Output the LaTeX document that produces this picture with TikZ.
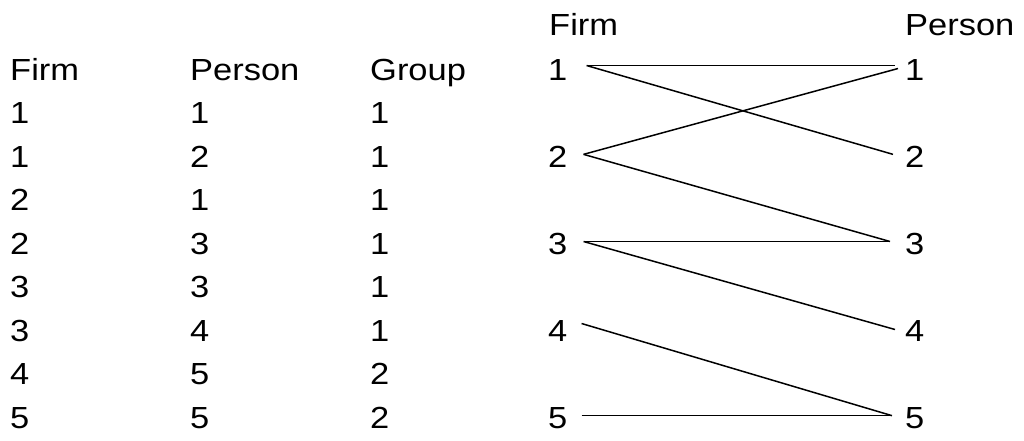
\documentclass[tikz,border=0pt]{standalone}
\usepackage{fontspec}
\setmainfont{Liberation Sans}[FakeStretch=1.13]
\usepackage{tikz}
\usetikzlibrary{positioning}

\tikzset{
    lbl/.style={anchor=base west,inner sep=0pt,font=\fontsize{30.5}{36}\selectfont},
    link/.style={line width=1.5pt,black}
}

\begin{document}
\begin{tikzpicture}[x=1pt,y=-1pt]
            \useasboundingbox (0,0) rectangle (1024,440);

            % table
            \node[lbl] (hfirm) at (10,80) {Firm};
            \node[lbl] (hperson) at (190,80) {Person};
            \node[lbl] (hgroup) at (370,80) {Group};

            \node[lbl] (ta1) at (10,123.5) {1};
            \node[lbl] (tb1) at (190,123.5) {1};
            \node[lbl] (tc1) at (370,123.5) {1};
            \node[lbl] (ta2) at (10,167) {1};
            \node[lbl] (tb2) at (190,167) {2};
            \node[lbl] (tc2) at (370,167) {1};
            \node[lbl] (ta3) at (10,210.5) {2};
            \node[lbl] (tb3) at (190,210.5) {1};
            \node[lbl] (tc3) at (370,210.5) {1};
            \node[lbl] (ta4) at (10,254) {2};
            \node[lbl] (tb4) at (190,254) {3};
            \node[lbl] (tc4) at (370,254) {1};
            \node[lbl] (ta5) at (10,297.5) {3};
            \node[lbl] (tb5) at (190,297.5) {3};
            \node[lbl] (tc5) at (370,297.5) {1};
            \node[lbl] (ta6) at (10,341) {3};
            \node[lbl] (tb6) at (190,341) {4};
            \node[lbl] (tc6) at (370,341) {1};
            \node[lbl] (ta7) at (10,384.5) {4};
            \node[lbl] (tb7) at (190,384.5) {5};
            \node[lbl] (tc7) at (370,384.5) {2};
            \node[lbl] (ta8) at (10,428) {5};
            \node[lbl] (tb8) at (190,428) {5};
            \node[lbl] (tc8) at (370,428) {2};

            % bipartite graph
            \node[lbl] (gfirm) at (549,35) {Firm};
            \node[lbl] (gperson) at (905,35) {Person};

            \node[lbl] (f1) at (548,80) {1};
            \node[lbl] (f2) at (548,167) {2};
            \node[lbl] (f3) at (548,254) {3};
            \node[lbl] (f4) at (548,341) {4};
            \node[lbl] (f5) at (548,428) {5};

            \node[lbl] (p1) at (905,80) {1};
            \node[lbl] (p2) at (905,167) {2};
            \node[lbl] (p3) at (905,254) {3};
            \node[lbl] (p4) at (905,341) {4};
            \node[lbl] (p5) at (905,428) {5};

            \draw[link] ([xshift=19pt,yshift=4pt]f1.east) -- ([xshift=-10pt,yshift=4pt]p1.west);
            \draw[link] ([xshift=19pt,yshift=4pt]f1.east) -- ([xshift=-12pt,yshift=2pt]p2.west);
            \draw[link] ([xshift=16pt,yshift=2pt]f2.east) -- ([xshift=-7pt,yshift=1pt]p1.west);
            \draw[link] ([xshift=16pt,yshift=2pt]f2.east) -- ([xshift=-15pt,yshift=2pt]p3.west);
            \draw[link] ([xshift=16pt,yshift=2pt]f3.east) -- ([xshift=-15pt,yshift=2pt]p3.west);
            \draw[link] ([xshift=16pt,yshift=2pt]f3.east) -- ([xshift=-10pt,yshift=1pt]p4.west);
            \draw[link] ([xshift=14pt,yshift=7pt]f4.east) -- ([xshift=-13pt,yshift=2pt]p5.west);
            \draw[link] ([xshift=14pt,yshift=2pt]f5.east) -- ([xshift=-13pt,yshift=2pt]p5.west);
        \end{tikzpicture}
\end{document}
